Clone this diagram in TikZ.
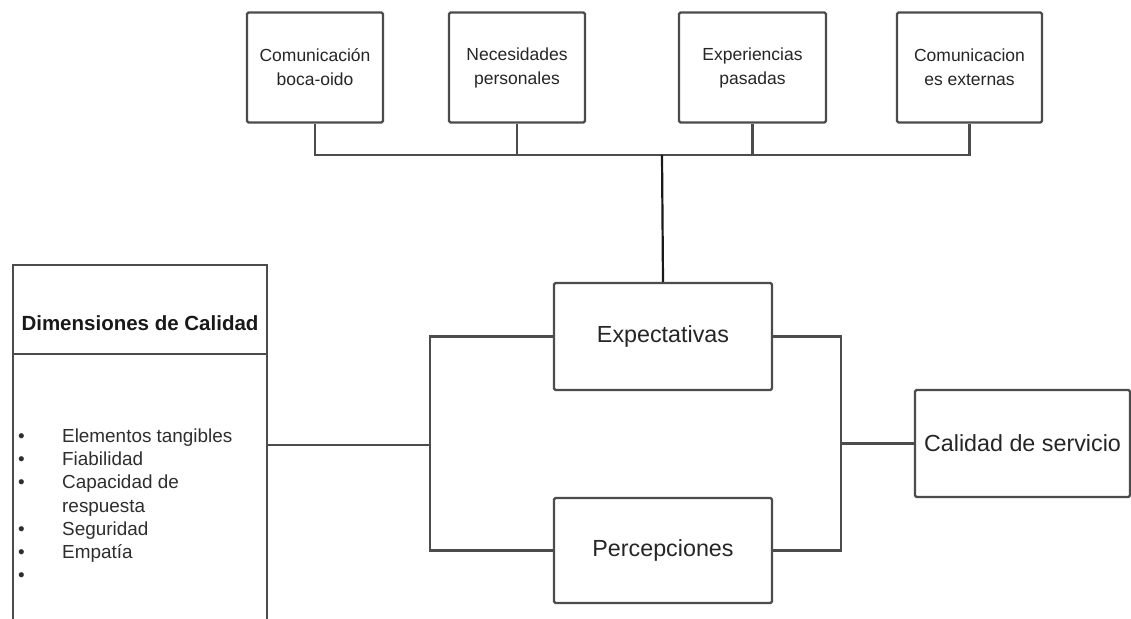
\documentclass[tikz,border=0pt]{standalone}
\usepackage{fontspec}
\setmainfont{Liberation Sans}
\begin{document}
\begin{tikzpicture}[x=1pt,y=-1pt,
  box/.style={draw=black!70, line width=2.2pt, rectangle, inner sep=0pt, align=center, text=black!85, rounded corners=1.5pt},
  topbox/.style={box, minimum height=110pt, font=\fontsize{17.5}{24}\selectfont},
  midbox/.style={box, minimum width=218pt, font=\fontsize{23.3}{28}\selectfont},
  wire/.style={draw=black!70, line width=2.2pt},
]
\useasboundingbox (0,0) rectangle (1131,618);
\fill[white] (0,0) rectangle (1131,618);

% sources of expectations
\node[topbox, minimum width=136pt] (c1) at (315,67.5) {Comunicación\\boca-oido};
\node[topbox, minimum width=136pt] (c2) at (517,67.5) {Necesidades\\personales};
\node[topbox, minimum width=147pt] (c3) at (752.5,67.5) {Experiencias\\pasadas};
\node[topbox, minimum width=145pt] (c4) at (969.5,67.5) {Comunicacion\\es externas};

% central boxes
\node[midbox, minimum height=107pt] (exp) at (663,336.5) {Expectativas};
\node[midbox, minimum height=105pt] (per) at (663,550.5) {Percepciones};
\node[midbox, minimum width=215pt, minimum height=107pt] (cal) at (1022.5,443.5) {Calidad de servicio};

% quality dimensions panel (runs past the lower edge)
\node[inner sep=0pt, minimum width=254pt, minimum height=355pt] (dim) at (140,442.5) {};
\node[inner sep=0pt, font=\bfseries\fontsize{20.5}{24}\selectfont, text=black!90] (dimt) at (140,323) {Dimensiones de Calidad};
\draw[wire] (dim.south west) -- (dim.north west) -- (dim.north east) -- (dim.south east);
\draw[wire] (dim.west |- 0,354) coordinate (dl) -- (dl -| dim.east);
\node[anchor=base west, inner sep=0pt, text=black!82, font=\fontsize{18.9}{23.2}\selectfont] (dimlist) at (18,442.5)
  {\begin{tabular}[t]{@{}p{44pt}@{}l@{}}
   • & Elementos tangibles\\
   • & Fiabilidad\\
   • & Capacidad de\\
     & respuesta\\
   • & Seguridad\\
   • & Empatía\\
   • &
   \end{tabular}};

% bus joining the four sources
\coordinate (bus) at (662,155);
\draw[wire] (c1.south) -- (c1.south |- bus) -- (c4.south |- bus) -- (c4.south);
\draw[wire] (c2.south) -- (c2.south |- bus);
\draw[wire] (c3.south) -- (c3.south |- bus);
\draw[wire, draw=black!90] (bus) -- (exp.north);

% left junction
\coordinate (lj) at (430,445);
\draw[wire] (exp.west) -| (lj) |- (per.west);
\draw[wire] (dim.east |- lj) -- (lj);

% right junction
\path (cal.west) ++(-73,0) coordinate (rj);
\draw[wire] (exp.east) -| (rj) |- (per.east);
\draw[wire] (rj) -- (cal.west);
\end{tikzpicture}
\end{document}
